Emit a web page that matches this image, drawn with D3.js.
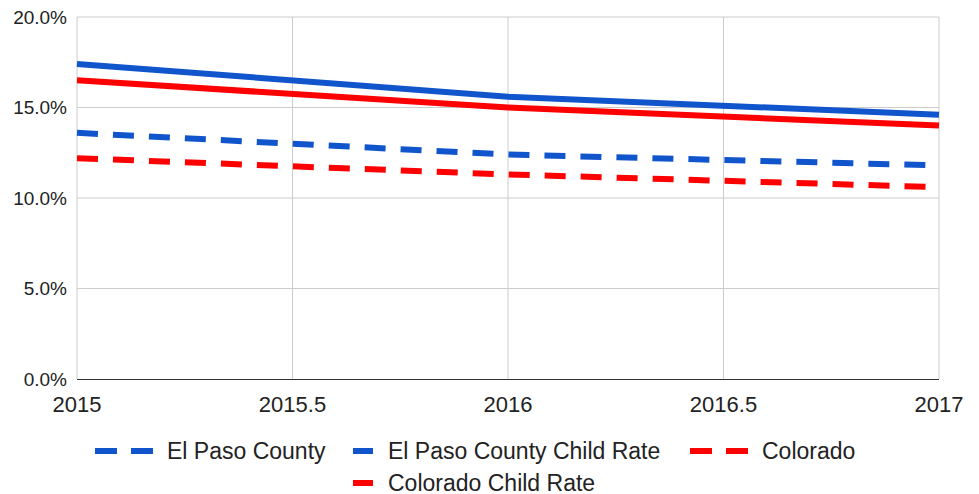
<!DOCTYPE html>
<html>
<head>
<meta charset="utf-8">
<script src="https://cdn.jsdelivr.net/npm/d3@7"></script>
<style>
  body { margin: 0; background: #fff; }
  text { font-family: "Liberation Sans", Arial, sans-serif; fill: #222; }
</style>
</head>
<body>
<div id="chart"></div>
<script>
// data
const years = [2015, 2016, 2017];
const elPaso = [0.136, 0.124, 0.118];
const elPasoChild = [0.174, 0.156, 0.146];
const colorado = [0.122, 0.113, 0.106];
const coloradoChild = [0.165, 0.150, 0.140];
const xTicks = [2015, 2015.5, 2016, 2016.5, 2017];
const yTicks = [0, 0.05, 0.10, 0.15, 0.20];

const series = [
    {name: "El Paso County", values: elPaso, color: "#1155cc", dashed: true},
    {name: "El Paso County Child Rate", values: elPasoChild, color: "#1155cc", dashed: false},
    {name: "Colorado", values: colorado, color: "#ff0000", dashed: true},
    {name: "Colorado Child Rate", values: coloradoChild, color: "#ff0000", dashed: false}
];

const W = 979, H = 494;
const plot = {left: 77, right: 939, top: 17, bottom: 379};

const svg = d3.select("#chart")
              .append("svg")
              .attr("width", W)
              .attr("height", H);

const x = d3.scaleLinear().domain([2015, 2017]).range([plot.left, plot.right]);
const y = d3.scaleLinear().domain([0, 0.2]).range([plot.bottom, plot.top]);

// gridlines
svg.append("g")
   .selectAll("line")
   .data(yTicks.filter(d => d > 0))
   .enter()
   .append("line")
   .attr("x1", plot.left).attr("x2", plot.right)
   .attr("y1", d => y(d)).attr("y2", d => y(d))
   .attr("stroke", "#cccccc").attr("stroke-width", 1);

svg.append("g")
   .selectAll("line")
   .data(xTicks)
   .enter()
   .append("line")
   .attr("x1", d => x(d)).attr("x2", d => x(d))
   .attr("y1", plot.top).attr("y2", plot.bottom)
   .attr("stroke", "#cccccc").attr("stroke-width", 1);

// baseline
svg.append("line")
   .attr("x1", plot.left).attr("x2", plot.right)
   .attr("y1", y(0) + 0.5).attr("y2", y(0) + 0.5)
   .attr("stroke", "#333").attr("stroke-width", 1);

// y labels
svg.append("g")
   .selectAll("text")
   .data(yTicks)
   .enter()
   .append("text")
   .attr("x", plot.left - 10)
   .attr("y", d => y(d))
   .attr("dy", "0.36em")
   .attr("text-anchor", "end")
   .style("font-size", "19px")
   .text(d => d3.format(".1%")(d));

// x labels
svg.append("g")
   .selectAll("text")
   .data(xTicks)
   .enter()
   .append("text")
   .attr("x", d => x(d))
   .attr("y", 412)
   .attr("text-anchor", "middle")
   .style("font-size", "22px")
   .text(d => d);

// lines
const line = d3.line()
               .x((d, i) => x(years[i]))
               .y(d => y(d));

svg.selectAll("path.series")
   .data(series)
   .enter()
   .append("path")
   .attr("class", "series")
   .attr("fill", "none")
   .attr("stroke", d => d.color)
   .attr("stroke-width", 6)
   .attr("stroke-dasharray", d => d.dashed ? "21,15" : null)
   .attr("d", d => line(d.values));

// legend
const legendPos = [
    {x: 95, y: 451},
    {x: 353, y: 451},
    {x: 690, y: 451},
    {x: 353, y: 483}
];

series.forEach((s, i) => {
    const p = legendPos[i];
    const g = svg.append("g").attr("transform", `translate(${p.x},${p.y})`);
    let textX;
    if (s.dashed) {
        g.append("line").attr("x1", 0).attr("x2", 22).attr("y1", 0).attr("y2", 0)
         .attr("stroke", s.color).attr("stroke-width", 6);
        g.append("line").attr("x1", 36).attr("x2", 58).attr("y1", 0).attr("y2", 0)
         .attr("stroke", s.color).attr("stroke-width", 6);
        textX = 72;
    } else {
        g.append("line").attr("x1", 0).attr("x2", 20).attr("y1", 0).attr("y2", 0)
         .attr("stroke", s.color).attr("stroke-width", 6);
        textX = 35;
    }
    g.append("text")
     .attr("x", textX)
     .attr("y", 0)
     .attr("dy", "0.36em")
     .style("font-size", "23px")
     .text(s.name);
});
</script>
</body>
</html>
